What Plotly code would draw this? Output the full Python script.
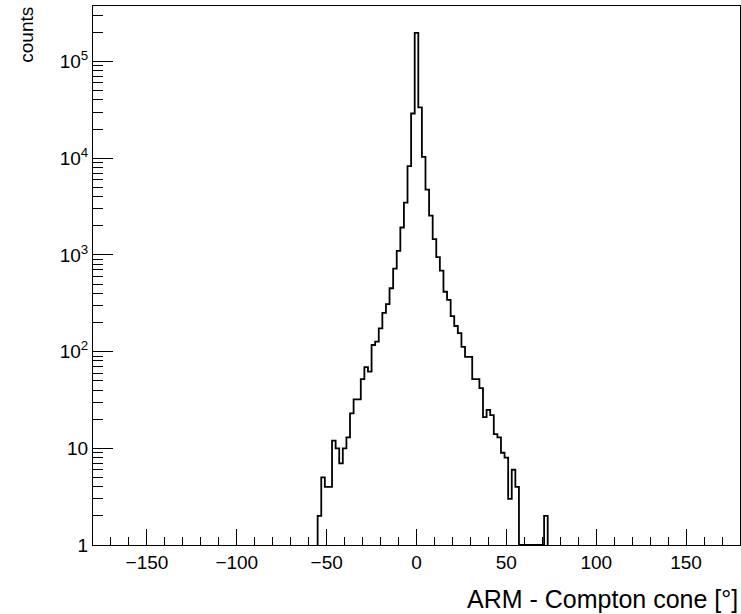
import plotly.graph_objects as go

# Histogram: ARM of Compton cone, 2-degree bins (edges at odd integers)
bin_width = 2
bin_centers = list(range(-54, 74, 2))
counts = [
    2, 5, 4, 4, 12, 10, 7, 10, 13, 23,          # -54 .. -36
    32, 32, 52, 69, 62, 117, 127, 174, 252, 310,  # -34 .. -16
    452, 720, 1100, 1920, 3470, 8300, 29000,      # -14 .. -2
    198000,                                       # 0
    33600, 10300, 4730, 2550, 1455, 950, 687, 416, 342, 233,  # 2 .. 20
    184, 155, 112, 88, 88, 52, 52, 42, 21, 25,    # 22 .. 40
    22, 14, 13, 9, 8, 3, 6, 4,                    # 42 .. 56
    0, 0, 0, 0, 0, 0, 0,                          # 58 .. 70
    2,                                            # 72
]

x_range = [-180, 180]
y_tickvals = [1, 10, 100, 1000, 10000, 100000]
y_ticktext = ["1", "10", "10<sup>2</sup>", "10<sup>3</sup>", "10<sup>4</sup>", "10<sup>5</sup>"]
y_minor_vals = [m * 10 ** k for k in range(0, 6) for m in range(2, 10)]
x_tickvals = [-150, -100, -50, 0, 50, 100, 150]
x_title = "ARM - Compton cone [°]"
y_title = "counts"
y_min = 1
y_log_max = 5.574

# build step outline (zero bins are drawn on the frame bottom like ROOT)
left_edges = [c - bin_width / 2 for c in bin_centers]
right_end = bin_centers[-1] + bin_width / 2
xs = [left_edges[0]] + left_edges + [right_end, right_end]
vals = [max(v, y_min) for v in counts]
ys = [y_min] + vals + [vals[-1], y_min]

FONT = "Liberation Sans, Arial, Helvetica, sans-serif"
TICK_SIZE = 19

fig = go.Figure()
fig.add_trace(go.Scatter(
    x=xs, y=ys, mode="lines", line=dict(color="black", width=1.8, shape="hv"),
    hoverinfo="skip", showlegend=False,
))
# invisible trace to carry the minor-tick overlay axis
fig.add_trace(go.Scatter(
    x=[x_range[0]], y=[y_min], yaxis="y2", mode="markers",
    marker=dict(opacity=0), hoverinfo="skip", showlegend=False,
))

fig.update_layout(
    width=741, height=614,
    margin=dict(l=93, r=1, t=6, b=69, autoexpand=False),
    paper_bgcolor="white", plot_bgcolor="white",
    font=dict(family=FONT, size=TICK_SIZE, color="black"),
    showlegend=False,
    xaxis=dict(
        range=x_range, showgrid=False, zeroline=False, automargin=False,
        showline=True, linecolor="black", linewidth=1, mirror=True,
        ticks="inside", ticklen=16, tickwidth=1, tickcolor="black",
        tickmode="array", tickvals=x_tickvals, tickfont=dict(size=TICK_SIZE),
        minor=dict(ticks="inside", ticklen=8, dtick=10, tick0=0, tickcolor="black", showgrid=False),
    ),
    yaxis=dict(
        type="log", range=[0, y_log_max], showgrid=False, zeroline=False,
        automargin=False, showline=True, linecolor="black", linewidth=1,
        mirror=True, ticks="inside", ticklen=20, tickwidth=1,
        tickcolor="black", tickmode="array", tickvals=y_tickvals,
        ticktext=y_ticktext, tickfont=dict(size=TICK_SIZE),
    ),
    yaxis2=dict(
        type="log", range=[0, y_log_max], overlaying="y", side="left",
        showgrid=False, zeroline=False, showline=False, automargin=False,
        ticks="inside", ticklen=10, tickwidth=1, tickcolor="black",
        tickmode="array", tickvals=y_minor_vals, showticklabels=False,
    ),
)
fig.add_annotation(
    text=x_title, xref="paper", yref="paper", x=1.0, y=-0.071,
    xanchor="right", yanchor="top", showarrow=False, font=dict(size=25),
)
fig.add_annotation(
    text=y_title, xref="paper", yref="paper", x=-0.103, y=1.003,
    xanchor="center", yanchor="top", textangle=-90, showarrow=False, font=dict(size=19),
)
fig.write_html(
    "out.html",
    config={"displayModeBar": False},
    post_script="document.body.style.margin='0';document.body.style.padding='0';",
)
